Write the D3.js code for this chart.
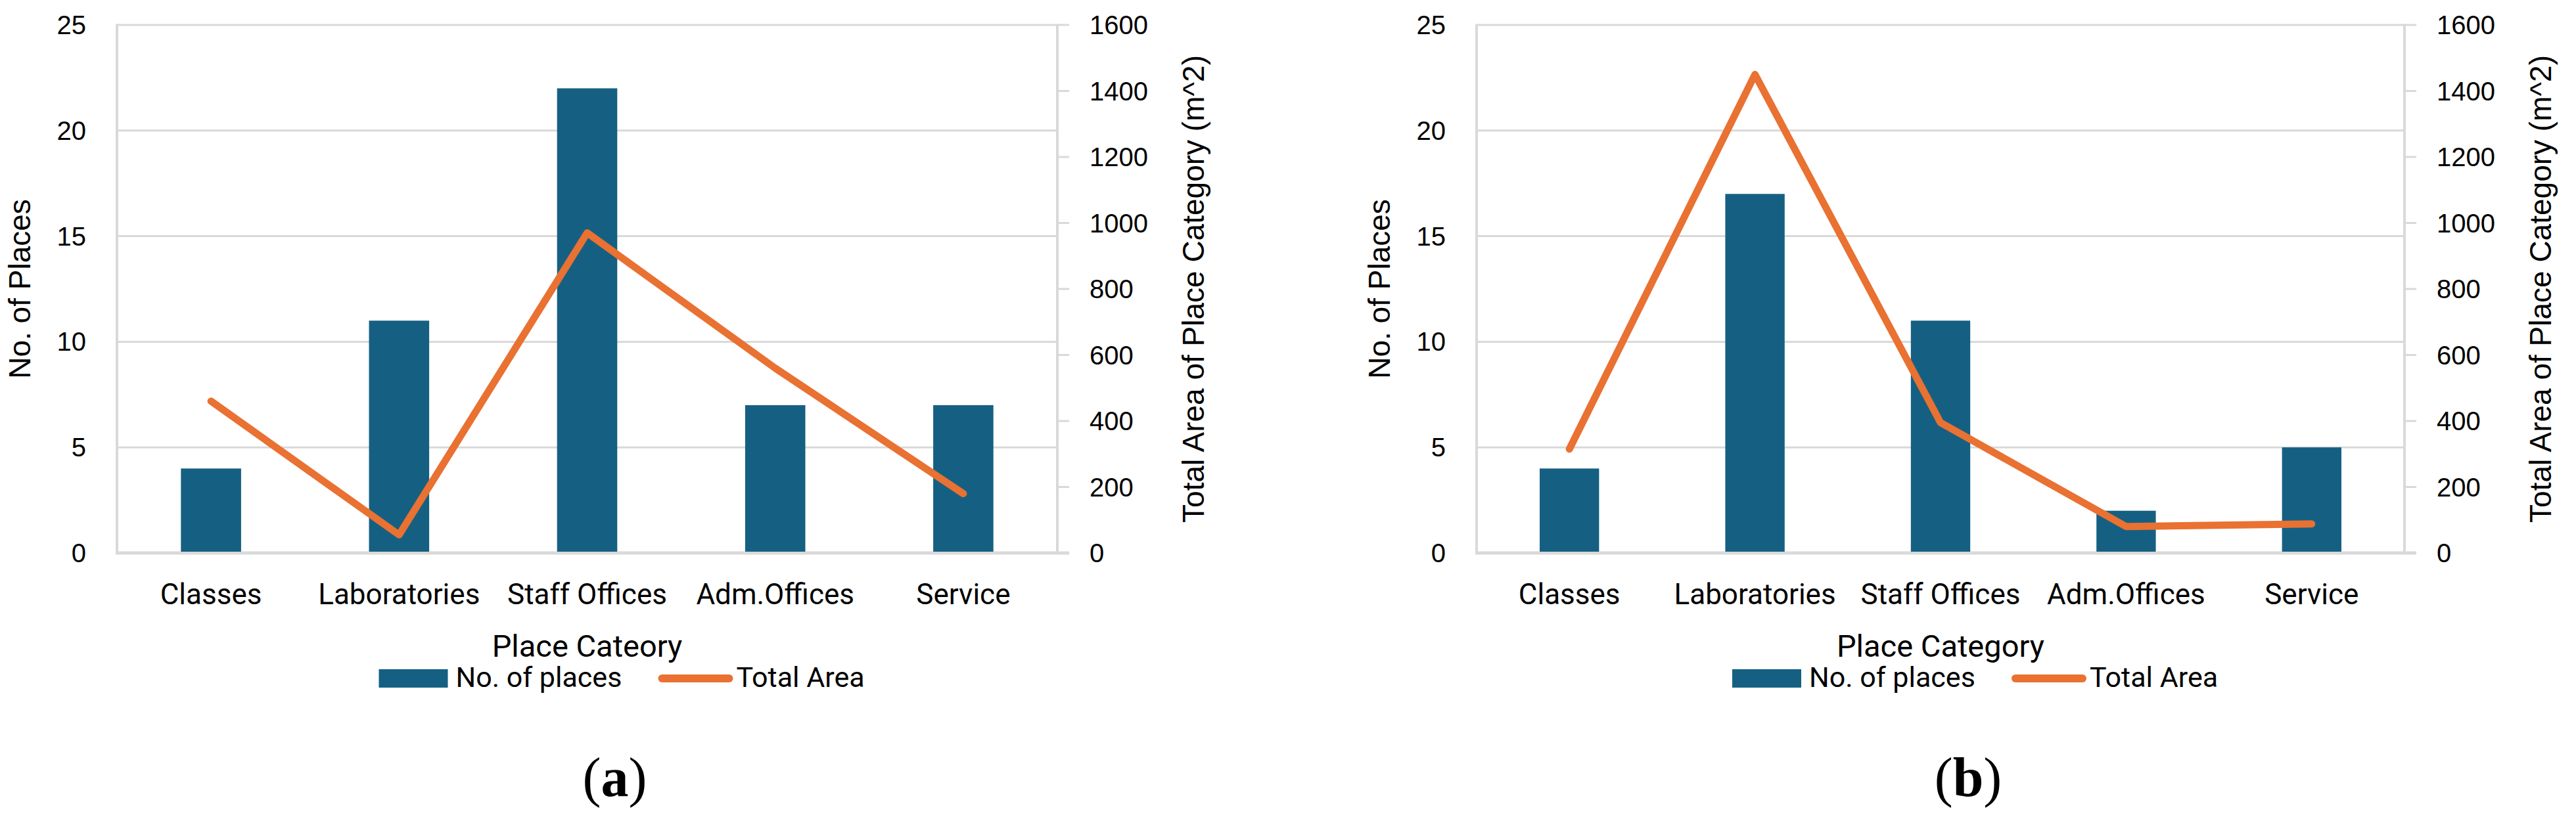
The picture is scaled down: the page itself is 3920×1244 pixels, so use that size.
<!DOCTYPE html>
<html>
<head>
<meta charset="utf-8">
<script src="https://cdn.jsdelivr.net/npm/d3@7"></script>
<style>
    body { margin: 0; background: #fff; }
    .tick-label { font-family: 'Liberation Sans', Arial, sans-serif; font-size: 40px; fill: #000; }
    .axis-title { font-family: 'Liberation Sans', Arial, sans-serif; font-size: 46px; fill: #000; }
    .cat-label { font-family: Roboto, sans-serif; font-size: 44px; fill: #000; }
    .legend-label { font-family: Roboto, sans-serif; font-size: 43px; fill: #000; }
    .caption { font-family: 'Liberation Serif', 'DejaVu Serif', serif; font-size: 84px; fill: #000; }
</style>
</head>
<body>
<svg width="3920" height="1244"></svg>
<script>
let categories = ['Classes', 'Laboratories', 'Staff Offices', 'Adm.Offices', 'Service']

// panel (a)
let placesA = [4, 11, 22, 7, 7]
let areaA = [460, 55, 970, 560, 180]

// panel (b)
let placesB = [4, 17, 11, 2, 5]
let areaB = [315, 1450, 395, 80, 88]

let placesTicks = [0, 5, 10, 15, 20, 25]
let areaTicks = [0, 200, 400, 600, 800, 1000, 1200, 1400, 1600]

let legendLabels = ['No. of places', 'Total Area']
let xTitles = ['Place Cateory', 'Place Category']
let captions = ['a', 'b']

let colors = { bar: '#156082', line: '#E97132', grid: '#D9D9D9' }

let svg = d3.select('svg')

function drawPanel(places, area, xTitle, caption, left, right) {
    let top = 38
    let bottom = 842
    let mid = (left + right) / 2

    let scale = {
        x: d3.scaleBand().domain(categories).range([left, right]).padding(0),
        y: d3.scaleLinear().domain([0, 25]).range([bottom, top]),
        y2: d3.scaleLinear().domain([0, 1600]).range([bottom, top])
    }

    let g = svg.append('g')

    // gridlines
    g.selectAll('.grid')
        .data(placesTicks)
        .enter()
        .append('line')
        .attr('x1', left)
        .attr('x2', right)
        .attr('y1', d => scale.y(d))
        .attr('y2', d => scale.y(d))
        .attr('stroke', colors.grid)
        .attr('stroke-width', 3)

    // left axis line
    g.append('line')
        .attr('x1', left).attr('x2', left)
        .attr('y1', top - 1.5).attr('y2', bottom + 2)
        .attr('stroke', colors.grid)
        .attr('stroke-width', 4)

    // right axis line + ticks
    g.append('line')
        .attr('x1', right).attr('x2', right)
        .attr('y1', top - 1.5).attr('y2', bottom + 2)
        .attr('stroke', colors.grid)
        .attr('stroke-width', 4)

    g.selectAll('.rtick')
        .data(areaTicks)
        .enter()
        .append('line')
        .attr('x1', right)
        .attr('x2', right + 18)
        .attr('y1', d => scale.y2(d))
        .attr('y2', d => scale.y2(d))
        .attr('stroke', colors.grid)
        .attr('stroke-width', 3)

    // bottom axis line
    g.append('line')
        .attr('x1', left - 2).attr('x2', right + 18)
        .attr('y1', bottom).attr('y2', bottom)
        .attr('stroke', colors.grid)
        .attr('stroke-width', 5)

    // Y tick labels
    g.selectAll('.ylab')
        .data(placesTicks)
        .enter()
        .append('text')
        .attr('class', 'tick-label')
        .attr('x', left - 47)
        .attr('y', d => scale.y(d))
        .attr('dy', '0.35em')
        .attr('text-anchor', 'end')
        .text(d => d)

    // Y2 tick labels
    g.selectAll('.y2lab')
        .data(areaTicks)
        .enter()
        .append('text')
        .attr('class', 'tick-label')
        .attr('x', right + 49)
        .attr('y', d => scale.y2(d))
        .attr('dy', '0.35em')
        .text(d => d)

    // bars
    let barWidth = scale.x.bandwidth() * 0.32
    g.selectAll('.bar')
        .data(places)
        .enter()
        .append('rect')
        .attr('x', (d, i) => scale.x(categories[i]) + scale.x.bandwidth() / 2 - barWidth / 2)
        .attr('y', d => scale.y(d))
        .attr('width', barWidth)
        .attr('height', d => bottom - 2 - scale.y(d))
        .attr('fill', colors.bar)

    // area line
    let line = d3.line()
        .x((d, i) => scale.x(categories[i]) + scale.x.bandwidth() / 2)
        .y(d => scale.y2(d))

    g.append('path')
        .datum(area)
        .attr('d', line)
        .attr('fill', 'none')
        .attr('stroke', colors.line)
        .attr('stroke-width', 11)
        .attr('stroke-linejoin', 'round')
        .attr('stroke-linecap', 'round')

    // category labels
    g.selectAll('.cat')
        .data(categories)
        .enter()
        .append('text')
        .attr('class', 'cat-label')
        .attr('x', d => scale.x(d) + scale.x.bandwidth() / 2)
        .attr('y', 920)
        .attr('text-anchor', 'middle')
        .text(d => d)

    // X title
    g.append('text')
        .attr('class', 'cat-label')
        .style('font-size', '47px')
        .attr('x', mid)
        .attr('y', 1000)
        .attr('text-anchor', 'middle')
        .text(xTitle)

    // Y titles
    g.append('text')
        .attr('class', 'axis-title')
        .attr('transform', `translate(${left - 148}, ${(top + bottom) / 2}) rotate(-90)`)
        .attr('text-anchor', 'middle')
        .attr('dy', '0.35em')
        .text('No. of Places')

    g.append('text')
        .attr('class', 'axis-title')
        .attr('transform', `translate(${right + 207}, ${(top + bottom) / 2}) rotate(-90)`)
        .attr('text-anchor', 'middle')
        .attr('dy', '0.35em')
        .text('Total Area of Place Category (m^2)')

    // legend
    g.append('rect')
        .attr('x', mid - 317).attr('y', 1019)
        .attr('width', 105).attr('height', 28)
        .attr('fill', colors.bar)

    g.append('text')
        .attr('class', 'legend-label')
        .attr('x', mid - 200).attr('y', 1046)
        .text(legendLabels[0])

    g.append('line')
        .attr('x1', mid + 114).attr('x2', mid + 216)
        .attr('y1', 1033).attr('y2', 1033)
        .attr('stroke', colors.line)
        .attr('stroke-width', 12)
        .attr('stroke-linecap', 'round')

    g.append('text')
        .attr('class', 'legend-label')
        .attr('x', mid + 227).attr('y', 1046)
        .text(legendLabels[1])

    // caption
    let cap = g.append('text')
        .attr('class', 'caption')
        .attr('x', mid + 42)
        .attr('y', 1212)
        .attr('text-anchor', 'middle')
    cap.append('tspan').text('(')
    cap.append('tspan').attr('font-weight', 'bold').text(caption)
    cap.append('tspan').text(')')
}

drawPanel(placesA, areaA, xTitles[0], captions[0], 178, 1609)
drawPanel(placesB, areaB, xTitles[1], captions[1], 2247, 3659)
</script>
</body>
</html>
